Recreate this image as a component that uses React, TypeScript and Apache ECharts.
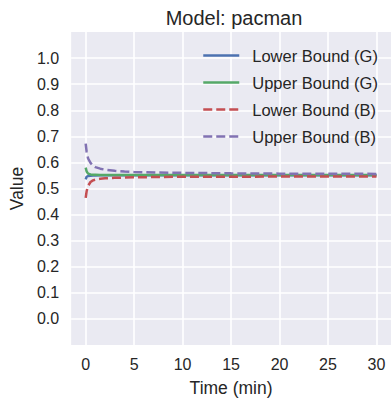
import React, { useEffect, useRef } from "react";
import * as echarts from "echarts";

const times = [0, 0.1, 0.25, 0.5, 0.75, 1, 1.5, 2, 3, 4, 5, 7.5, 10, 15, 20, 25, 30];
const lowerG = [0.535, 0.545, 0.548, 0.549, 0.55, 0.55, 0.551, 0.551, 0.551, 0.551, 0.551, 0.551, 0.551, 0.551, 0.551, 0.551, 0.551];
const upperG = [0.58, 0.565, 0.557, 0.554, 0.553, 0.553, 0.552, 0.552, 0.552, 0.552, 0.552, 0.552, 0.552, 0.552, 0.552, 0.552, 0.552];
const lowerB = [0.464, 0.49, 0.51, 0.525, 0.531, 0.534, 0.537, 0.539, 0.541, 0.542, 0.543, 0.544, 0.545, 0.545, 0.546, 0.546, 0.546];
const upperB = [0.672, 0.64, 0.615, 0.598, 0.588, 0.582, 0.576, 0.572, 0.568, 0.565, 0.563, 0.561, 0.56, 0.558, 0.557, 0.557, 0.556];
const seriesNames = ["Lower Bound (G)", "Upper Bound (G)", "Lower Bound (B)", "Upper Bound (B)"];
const xTicks = [0, 5, 10, 15, 20, 25, 30];
const yTicks = [0, 0.1, 0.2, 0.3, 0.4, 0.5, 0.6, 0.7, 0.8, 0.9, 1.0];

const FONT = "Liberation Sans, Arial, sans-serif";
const TXT = "#262626";

export default function App() {
  const ref = useRef<HTMLDivElement>(null);
  useEffect(() => {
    const chart = echarts.init(ref.current!, undefined, { renderer: "svg" });
    const colors = ["#4C72B0", "#55A868", "#C44E52", "#8172B2"];
    const dataSets = [lowerG, upperG, lowerB, upperB];
    chart.setOption({
      animation: false,
      title: {
        text: "Model: pacman",
        left: 229,
        textAlign: "center",
        top: 3,
        textStyle: { fontFamily: FONT, fontSize: 20, fontWeight: "normal", color: TXT },
      },
      legend: {
        orient: "vertical",
        left: 202,
        top: 47,
        padding: 0,
        itemWidth: 36,
        itemHeight: 14,
        itemGap: 10,
        itemStyle: { opacity: 0 },
        lineStyle: { width: 2.5 },
        textStyle: { fontFamily: FONT, fontSize: 16.5, lineHeight: 14, color: TXT, padding: [0, 0, 0, 8] },
        data: seriesNames,
      },
      grid: {
        left: 67,
        right: 0,
        top: 32,
        bottom: 53,
        show: true,
        backgroundColor: "#EAEAF2",
        borderWidth: 0,
      },
      xAxis: {
        type: "value",
        min: -1.5,
        max: 31.5,
        name: "Time (min)",
        nameLocation: "middle",
        nameGap: 34,
        nameTextStyle: { fontFamily: FONT, fontSize: 17.5, color: TXT },
        axisLine: { show: false },
        axisTick: { show: false, customValues: xTicks },
        axisLabel: {
          customValues: xTicks,
          fontFamily: FONT,
          fontSize: 16,
          color: TXT,
          margin: 11,
        },
        splitLine: { show: true, lineStyle: { color: "#ffffff", width: 1.6 } },
      },
      yAxis: {
        type: "value",
        min: -0.1,
        max: 1.1,
        name: "Value",
        nameLocation: "middle",
        nameGap: 44,
        nameTextStyle: { fontFamily: FONT, fontSize: 17.5, color: TXT },
        axisLine: { show: false },
        axisTick: { show: false, customValues: yTicks },
        axisLabel: {
          customValues: yTicks,
          fontFamily: FONT,
          fontSize: 16,
          color: TXT,
          margin: 12,
          formatter: (v: number) => v.toFixed(1),
        },
        splitLine: { show: true, lineStyle: { color: "#ffffff", width: 1.6 } },
      },
      series: seriesNames.map((name, i) => ({
        name,
        type: "line",
        symbol: "none",
        color: colors[i],
        data: times.map((t, j) => [t, dataSets[i][j]]),
        lineStyle: {
          color: colors[i],
          width: 2.5,
          type: i >= 2 ? [9, 4] : "solid",
        },
        z: 3,
      })),
    });
    return () => chart.dispose();
  }, []);
  return <div ref={ref} style={{ width: 391, height: 402, position: "absolute", left: 0, top: 0 }} />;
}
